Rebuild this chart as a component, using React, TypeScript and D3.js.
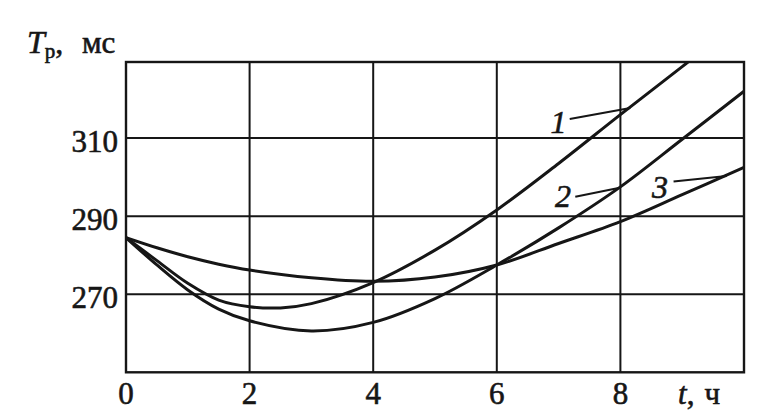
import React from "react";
import * as d3 from "d3";

const xTicks = [0, 2, 4, 6, 8];
const yTicks = [270, 290, 310];
const xGrid = [2, 4, 6, 8];

const t1 = [0, 0.5, 1, 1.5, 2, 2.5, 3, 4, 5, 6, 7, 8, 9, 9.15];
const v1 = [284.5, 278.6, 272.8, 268.5, 266.8, 266.5, 267.6, 273, 281.3, 291.6, 303.5, 316, 328.3, 330.2];

const t2 = [0, 0.5, 1, 1.5, 2, 3, 4, 5, 6, 7, 8, 9, 10];
const v2 = [284.5, 277.5, 271.1, 266.2, 263.2, 260.6, 262.8, 268.9, 277.5, 287, 297.5, 309.7, 322];

const t3 = [0, 0.5, 1, 1.5, 2, 3, 4, 5, 6, 7, 8, 9, 10];
const v3 = [284.5, 281.9, 279.6, 277.7, 276.2, 274.2, 273.3, 274.4, 277.5, 283, 288.6, 295.5, 302.5];

const seriesNames = ["1", "2", "3"];
const labelPos = [
  { tx: 7.0, tv: 311.4, a: [7.18, 314.9], b: [8.16, 317.7] },
  { tx: 7.07, tv: 292.4, a: [7.27, 295.0], b: [7.97, 297.2] },
  { tx: 8.64, tv: 294.7, a: [8.86, 298.9], b: [9.72, 300.3] },
];

const W = 774;
const H = 418;
const INK = "#161616";
const FONT = "'Liberation Serif', 'DejaVu Serif', serif";

export default function App() {
  const x = d3.scaleLinear().domain([0, 10]).range([126, 744]);
  const y = d3.scaleLinear().domain([250, 329.5]).range([372.3, 62]);

  const line = d3
    .line<[number, number]>()
    .x((d) => x(d[0]))
    .y((d) => y(d[1]))
    .curve(d3.curveCatmullRom.alpha(0.5));

  const series = [
    t1.map((t, i) => [t, v1[i]] as [number, number]),
    t2.map((t, i) => [t, v2[i]] as [number, number]),
    t3.map((t, i) => [t, v3[i]] as [number, number]),
  ];

  const [x0, x1] = x.range();
  const [yb, yt] = y.range();
  const textStyle = { stroke: INK, strokeWidth: 0.6 };

  return (
    <svg
      width={W}
      height={H}
      style={{ position: "absolute", left: 0, top: 0, background: "#fff" }}
    >
      <defs>
        <clipPath id="plot">
          <rect x={x0} y={yt} width={x1 - x0} height={yb - yt} />
        </clipPath>
      </defs>
      <rect x={0} y={0} width={W} height={H} fill="#fff" />
      {xGrid.map((t) => (
        <line key={"gx" + t} x1={x(t)} x2={x(t)} y1={yt} y2={yb} stroke={INK} strokeWidth={2} />
      ))}
      {yTicks.map((v) => (
        <line key={"gy" + v} x1={x0} x2={x1} y1={y(v)} y2={y(v)} stroke={INK} strokeWidth={2} />
      ))}
      <rect x={x0} y={yt} width={x1 - x0} height={yb - yt} fill="none" stroke={INK} strokeWidth={2.4} />
      <g clipPath="url(#plot)">
        {series.map((s, i) => (
          <path key={"s" + i} d={line(s) || ""} fill="none" stroke={INK} strokeWidth={3} />
        ))}
      </g>
      {labelPos.map((p, i) => (
        <g key={"lab" + i}>
          <line
            x1={x(p.a[0])}
            y1={y(p.a[1])}
            x2={x(p.b[0])}
            y2={y(p.b[1])}
            stroke={INK}
            strokeWidth={2}
          />
          <text
            x={x(p.tx)}
            y={y(p.tv)}
            textAnchor="middle"
            fontFamily={FONT}
            fontStyle="italic"
            fontSize={32}
            fill={INK}
            style={textStyle}
          >
            {seriesNames[i]}
          </text>
        </g>
      ))}
      {yTicks.map((v) => (
        <text
          key={"yl" + v}
          x={x0 - 8}
          y={y(v) + 14}
          textAnchor="end"
          fontFamily={FONT}
          fontSize={31}
          fill={INK}
          style={textStyle}
        >
          {v}
        </text>
      ))}
      {xTicks.map((t) => (
        <text
          key={"xl" + t}
          x={x(t)}
          y={404}
          textAnchor="middle"
          fontFamily={FONT}
          fontSize={31}
          fill={INK}
          style={textStyle}
        >
          {t}
        </text>
      ))}
      <text x={678} y={404} fontFamily={FONT} fontSize={31} fill={INK} style={textStyle}>
        <tspan fontStyle="italic">t</tspan>
        <tspan>,</tspan>
        <tspan dx={10}>ч</tspan>
      </text>
      <text x={27} y={53} fontFamily={FONT} fontSize={32} fill={INK} style={textStyle}>
        <tspan fontStyle="italic">T</tspan>
        <tspan fontSize={21} dy={5}>р</tspan>
        <tspan dy={-5}>,</tspan>
      </text>
      <text x={82} y={53} fontFamily={FONT} fontSize={31} fill={INK} style={textStyle}>
        мс
      </text>
    </svg>
  );
}
